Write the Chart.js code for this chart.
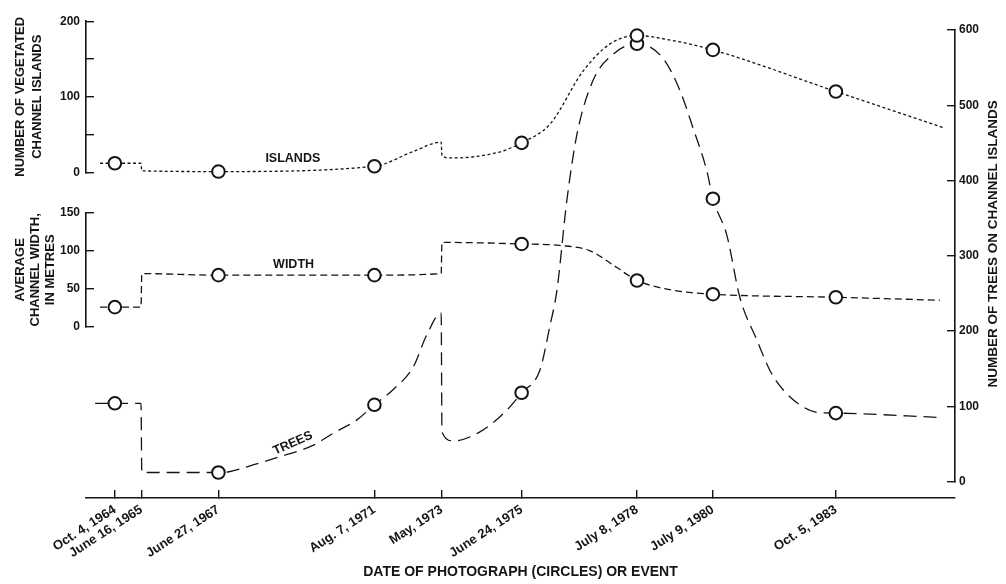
<!DOCTYPE html>
<html><head><meta charset="utf-8">
<script src="https://cdn.jsdelivr.net/npm/chart.js@4.4.1/dist/chart.umd.min.js"></script>
<style>html,body{margin:0;padding:0;background:#fff;}canvas{display:block;}</style>
</head><body>
<canvas id="c" width="1006" height="584"></canvas>
<script>
// ---- data (x values are dates in decimal years) ----
const tickDates = [1964.76, 1965.46, 1967.49, 1971.60, 1973.37, 1975.48, 1978.52, 1980.52, 1983.76];
const tickLabels = ['Oct. 4, 1964', 'June 16, 1965', 'June 27, 1967', 'Aug. 7, 1971', 'May, 1973', 'June 24, 1975', 'July 8, 1978', 'July 9, 1980', 'Oct. 5, 1983'];
const photoDates = [1964.76, 1967.49, 1971.60, 1975.48, 1978.52, 1980.52, 1983.76];

const islandsX = [1964.37, 1964.76, 1965.45, 1965.47, 1967.49, 1971.60, 1972.60, 1973.36, 1973.38, 1973.60, 1974.83, 1975.48, 1976.23, 1977.10, 1977.81, 1978.52, 1979.50, 1980.52, 1983.76, 1986.60];
const islandsY = [12, 12, 12, 2, 1, 8, 27, 40, 22, 19, 26, 39, 64, 134, 170, 181, 174, 162, 107, 59];

const widthX = [1964.37, 1964.76, 1965.45, 1965.47, 1967.49, 1971.60, 1973.36, 1973.38, 1975.48, 1976.49, 1977.28, 1977.99, 1978.52, 1979.50, 1980.52, 1983.76, 1986.50];
const widthY = [26, 26, 26, 70, 68, 68, 70, 111, 109, 107, 100, 78, 61, 48, 43, 39, 35];

const treesX = [1964.24, 1964.76, 1965.45, 1965.47, 1967.49, 1967.77, 1968.40, 1969.11, 1969.98, 1970.51, 1971.14, 1971.60, 1972.09, 1972.62, 1972.98, 1973.36, 1973.38, 1973.67, 1974.38, 1975.09, 1975.48, 1975.96, 1976.23, 1976.41, 1976.67, 1976.94, 1977.36, 1977.89, 1978.52, 1979.20, 1979.65, 1979.99, 1980.36, 1980.52, 1980.89, 1981.23, 1981.68, 1982.02, 1982.37, 1982.81, 1983.26, 1983.76, 1986.58];
const treesY = [104, 104, 104, 12, 12, 13, 22, 33, 48, 64, 82, 102, 122, 152, 195, 224, 66, 54, 66, 95, 118, 148, 208, 254, 373, 462, 533, 568, 582, 563, 520, 471, 413, 376, 327, 245, 188, 148, 122, 102, 92, 91, 85];

const curveLabels = [
  {text: 'ISLANDS', x: 1969.45, y: 18, scale: 'yI', rotation: 0},
  {text: 'WIDTH', x: 1969.47, y: 82, scale: 'yW', rotation: 0},
  {text: 'TREES', x: 1969.45, y: 51, scale: 'yT', rotation: -24}
];
const rightTitle = 'NUMBER OF TREES ON CHANNEL ISLANDS';

// ---- styling ----
const FAMILY = '"Liberation Sans", Arial, sans-serif';
const INK = '#151515';
const tickFont = {family: FAMILY, size: 12, weight: 'bold'};
const xTickFont = {family: FAMILY, size: 13, weight: 'bold'};
const titleFont = {family: FAMILY, size: 13, weight: 'bold'};

const pairs = (xs, ys) => xs.map((x, i) => ({x: x, y: ys[i]}));
const isPhoto = ctx => !!(ctx.raw && photoDates.includes(ctx.raw.x));

function lineDs(data, axis, dash) {
  return {
    data: data, yAxisID: axis, borderColor: INK, borderWidth: 1.3, borderDash: dash,
    fill: false, cubicInterpolationMode: 'monotone', clip: false,
    pointRadius: ctx => isPhoto(ctx) ? 6.3 : 0,
    pointHoverRadius: ctx => isPhoto(ctx) ? 6.3 : 0,
    pointBorderWidth: 2, pointBorderColor: INK, pointBackgroundColor: '#fff'
  };
}

const inwardGrid = {display: true, drawOnChartArea: false, drawTicks: true, tickLength: -8, color: INK, lineWidth: 1.4};
const axisBorder = {display: true, color: INK, width: 1.6};
function spacer(pos, stack, sw, w) {
  return {type: 'linear', position: pos, stack: stack, stackWeight: sw, weight: w, display: true,
    ticks: {display: false}, grid: {display: false, drawTicks: false}, border: {display: false},
    afterFit: s => { s.width = pos === 'left' ? 86 : 51; }};
}

const labelPlugin = {
  id: 'curveLabels',
  afterDatasetsDraw(chart) {
    const ctx = chart.ctx;
    ctx.save();
    ctx.fillStyle = INK;
    ctx.font = 'bold 12.5px ' + FAMILY;
    ctx.textAlign = 'center';
    ctx.textBaseline = 'middle';
    for (const l of curveLabels) {
      const px = chart.scales.x.getPixelForValue(l.x);
      const py = chart.scales[l.scale].getPixelForValue(l.y);
      ctx.save();
      ctx.translate(px, py);
      ctx.rotate(l.rotation * Math.PI / 180);
      ctx.fillText(l.text, 0, 0);
      ctx.restore();
    }
    const s = chart.scales.yT;
    ctx.font = 'bold 13.5px ' + FAMILY;
    ctx.translate(s.right - 13, (s.top + s.bottom) / 2 - 12);
    ctx.rotate(-Math.PI / 2);
    ctx.fillText(rightTitle, 0, 0);
    ctx.restore();
  }
};

new Chart(document.getElementById('c'), {
  type: 'line',
  data: {
    datasets: [
      lineDs(pairs(islandsX, islandsY), 'yI', [3, 2.5]),
      lineDs(pairs(widthX, widthY), 'yW', [7, 4]),
      lineDs(pairs(treesX, treesY), 'yT', [13, 7])
    ]
  },
  options: {
    responsive: false, devicePixelRatio: 1, animation: false, events: [],
    layout: {padding: {top: 20, left: 0, right: 0, bottom: 0}},
    plugins: {legend: {display: false}, tooltip: {enabled: false}},
    scales: {
      x: {
        type: 'linear', position: 'bottom', min: 1964.0, max: 1986.9,
        afterBuildTicks: s => { s.ticks = tickDates.map(v => ({value: v})); },
        afterFit: s => { s.height = 86; },
        ticks: {autoSkip: false, minRotation: 33, maxRotation: 33, padding: 12, color: INK, font: xTickFont,
          callback: (v, i) => tickLabels[i]},
        grid: inwardGrid, border: axisBorder,
        title: {display: true, text: 'DATE OF PHOTOGRAPH (CIRCLES) OR EVENT', color: INK,
          font: {family: FAMILY, size: 14, weight: 'bold'}, padding: {top: 0, bottom: 3}}
      },
      yI: {
        type: 'linear', position: 'left', stack: 'L', stackWeight: 151.5, weight: 4, min: 0, max: 200,
        afterFit: s => { s.width = 86; },
        ticks: {stepSize: 50, padding: 14, color: INK, font: tickFont,
          callback: v => (v % 100 === 0 ? String(v) : '')},
        grid: inwardGrid, border: axisBorder,
        title: {display: true, text: ['NUMBER OF VEGETATED', 'CHANNEL ISLANDS'], color: INK,
          font: Object.assign({}, titleFont, {lineHeight: 1.3}), padding: {top: 12, bottom: 0}}
      },
      gap1: spacer('left', 'L', 40.5, 3),
      yW: {
        type: 'linear', position: 'left', stack: 'L', stackWeight: 114.5, weight: 2, min: 0, max: 150,
        afterFit: s => { s.width = 86; },
        ticks: {stepSize: 50, padding: 14, color: INK, font: tickFont},
        grid: inwardGrid, border: axisBorder,
        title: {display: true, text: ['AVERAGE', 'CHANNEL WIDTH,', 'IN METRES'], color: INK,
          font: Object.assign({}, titleFont, {lineHeight: 1.16}), padding: {top: 12.5, bottom: 0}}
      },
      gap2: spacer('left', 'L', 171.5, 1),
      gapT: spacer('right', 'R', 9, 0),
      yT: {
        type: 'linear', position: 'right', stack: 'R', stackWeight: 452.5, weight: 1, min: 0, max: 600,
        afterFit: s => { s.width = 51; },
        ticks: {stepSize: 100, padding: 12, color: INK, font: tickFont},
        grid: inwardGrid, border: axisBorder
      },
      gapB: spacer('right', 'R', 16.5, 2)
    }
  },
  plugins: [labelPlugin]
});
</script>
</body></html>
